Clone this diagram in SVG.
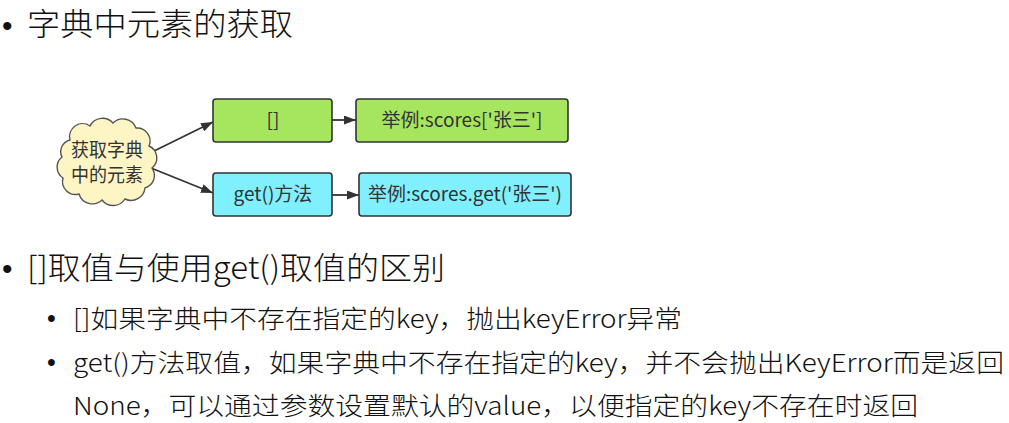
<svg xmlns="http://www.w3.org/2000/svg" width="1009" height="423" viewBox="0 0 1009 423">
<style>
  text { font-family: "Noto Sans CJK SC", "Noto Sans", sans-serif; font-weight: 300; }
  .h1 { font-size: 31px; fill: #111; }
  .h2 { font-size: 25px; fill: #111; }
  .bul { font-family: "Liberation Sans", sans-serif; fill: #111; font-weight: 400; }
  .node { font-size: 19px; fill: #333; text-anchor: middle; font-weight: 400; }
  .green { fill: #a6e65e; stroke: #333; stroke-width: 1.6; }
  .cyan { fill: #80f0ff; stroke: #333; stroke-width: 1.6; }
  .cloud { fill: #fdf5c4; stroke: #555; stroke-width: 1.4; }
  .conn { stroke: #333; stroke-width: 1.8; fill: none; marker-end: url(#arr); }
</style>
<defs>
  <marker id="arr" viewBox="0 0 10 10" refX="10" refY="5" markerWidth="12" markerHeight="9" markerUnits="userSpaceOnUse" orient="auto" preserveAspectRatio="none">
    <path d="M0,0 L10,5 L0,10 z" fill="#333"/>
  </marker>
</defs>
<rect width="1009" height="423" fill="#ffffff"/>

<g id="title">
  <text class="bul" x="2" y="36" font-size="30">•</text>
  <text class="h1" x="27" y="35" textLength="266" lengthAdjust="spacingAndGlyphs">字典中元素的获取</text>
</g>

<g id="connectors">
  <line class="conn" x1="152" y1="152" x2="213" y2="122"/>
  <line class="conn" x1="151" y1="168" x2="213" y2="193"/>
  <line class="conn" x1="332" y1="120" x2="356" y2="120"/>
  <line class="conn" x1="332" y1="195" x2="359" y2="195"/>
</g>

<g id="cloud-node">
  <path class="cloud" d="M70,140 A13,13 0 0 1 90,126 A14,14 0 0 1 113,123 A14,14 0 0 1 136,128 A13,13 0 0 1 149,146 A13,13 0 0 1 152,168 A13,13 0 0 1 145,188 A14,14 0 0 1 125,199 A14,14 0 0 1 102,200 A14,14 0 0 1 79,194 A13,13 0 0 1 63,178 A13,13 0 0 1 62,157 A12,12 0 0 1 70,140 Z"/>
  <text class="node" x="107" y="157" font-size="16.5" textLength="72" lengthAdjust="spacingAndGlyphs">获取字典</text>
  <text class="node" x="107" y="182" font-size="16.5" textLength="72" lengthAdjust="spacingAndGlyphs">中的元素</text>
</g>

<g id="node-brackets">
  <rect class="green" x="213" y="99" width="119" height="43" rx="3"/>
  <text class="node" x="273" y="127">[]</text>
</g>
<g id="node-example1">
  <rect class="green" x="356" y="99" width="212" height="43" rx="3"/>
  <text class="node" x="462" y="127">举例:scores['张三']</text>
</g>
<g id="node-get">
  <rect class="cyan" x="213" y="173" width="119" height="43" rx="3"/>
  <text class="node" x="273" y="201">get()方法</text>
</g>
<g id="node-example2">
  <rect class="cyan" x="359" y="173" width="212" height="43" rx="3"/>
  <text class="node" x="465" y="201">举例:scores.get('张三')</text>
</g>

<g id="section2">
  <text class="bul" x="2" y="279" font-size="30">•</text>
  <text class="h1" x="27" y="279" textLength="418" lengthAdjust="spacingAndGlyphs">[]取值与使用get()取值的区别</text>
  <text class="bul" x="47" y="327" font-size="25">•</text>
  <text class="h2" x="73" y="328" textLength="609" lengthAdjust="spacingAndGlyphs">[]如果字典中不存在指定的key，抛出keyError异常</text>
  <text class="bul" x="47" y="371" font-size="25">•</text>
  <text class="h2" x="73" y="372" textLength="931" lengthAdjust="spacingAndGlyphs">get()方法取值，如果字典中不存在指定的key，并不会抛出KeyError而是返回</text>
  <text class="h2" x="73" y="415" textLength="845" lengthAdjust="spacingAndGlyphs">None，可以通过参数设置默认的value，以便指定的key不存在时返回</text>
</g>
</svg>
